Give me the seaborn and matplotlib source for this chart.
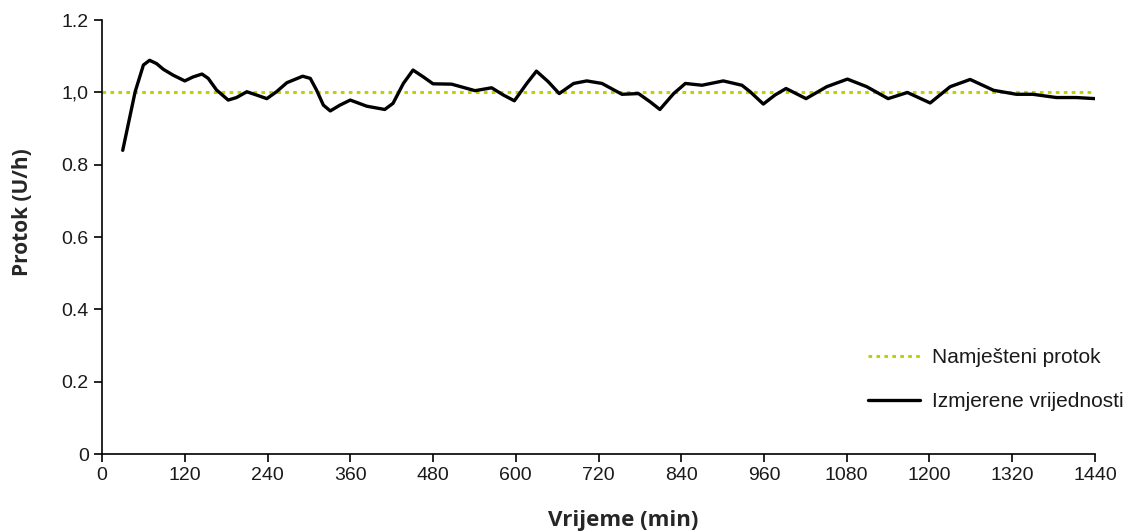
import matplotlib
matplotlib.use("Agg")
import matplotlib.pyplot as plt
import seaborn as sns
import pandas as pd

# values (min, U/h)
vrijeme = [30, 48, 60, 69, 79, 89, 103, 120, 132, 145, 154, 166, 183, 195, 210,
           224, 239, 253, 268, 291, 302, 311, 321, 331, 345, 360, 384, 410, 422,
           437, 451, 466, 480, 507, 524, 541, 565, 582, 598, 616, 630, 647, 663,
           684, 703, 725, 754, 778, 795, 809, 829, 846, 870, 901, 928, 940, 959,
           976, 992, 1021, 1051, 1081, 1109, 1140, 1168, 1201, 1230, 1259, 1293,
           1326, 1350, 1384, 1413, 1440]
izmjereno = [0.840, 1.002, 1.076, 1.089, 1.080, 1.064, 1.048, 1.032, 1.043, 1.051,
             1.039, 1.007, 0.979, 0.986, 1.002, 0.993, 0.983, 1.002, 1.027, 1.045,
             1.039, 1.007, 0.965, 0.949, 0.965, 0.979, 0.962, 0.953, 0.970, 1.025,
             1.062, 1.043, 1.024, 1.023, 1.014, 1.005, 1.013, 0.993, 0.977, 1.025,
             1.059, 1.030, 0.997, 1.025, 1.032, 1.025, 0.995, 0.997, 0.974, 0.953,
             0.997, 1.025, 1.020, 1.032, 1.020, 1.002, 0.968, 0.993, 1.011, 0.983,
             1.016, 1.037, 1.016, 0.983, 1.000, 0.971, 1.016, 1.036, 1.006, 0.995,
             0.995, 0.986, 0.986, 0.983]
namjesteni_x = [0, 1440]
namjesteni_y = [1.0, 1.0]

x_ticks = list(range(0, 1441, 120))
y_ticks = [0, 0.2, 0.4, 0.6, 0.8, 1.0, 1.2]
y_labels = ["0", "0.2", "0.4", "0.6", "0.8", "1,0", "1.2"]

sns.set_style("ticks")
plt.rcParams['font.family'] = ['Liberation Sans', 'DejaVu Sans']

df = pd.DataFrame({"Vrijeme": vrijeme, "Protok": izmjereno})
ref = pd.DataFrame({"Vrijeme": namjesteni_x, "Protok": namjesteni_y})

fig = plt.figure(figsize=(11.3, 5.31), dpi=100)
ax = fig.add_axes([0.0903, 0.145, 0.8787, 0.817])

sns.lineplot(data=ref, x="Vrijeme", y="Protok", ax=ax, color="#bfd200",
             linewidth=2.2, linestyle=(0, (1.2, 1.4)), label="Namješteni protok")
sns.lineplot(data=df, x="Vrijeme", y="Protok", ax=ax, color="black",
             linewidth=2.4, label="Izmjerene vrijednosti", solid_joinstyle="round")

ax.set_xlim(0, 1440)
ax.set_ylim(0, 1.2)
ax.set_xticks(x_ticks)
ax.set_yticks(y_ticks)
ax.set_yticklabels(y_labels)
ax.tick_params(labelsize=14, length=6, width=1.2, color="black", labelcolor="#1a1a1a")
for s in ["top", "right"]:
    ax.spines[s].set_visible(False)
for s in ["left", "bottom"]:
    ax.spines[s].set_linewidth(1.2)
    ax.spines[s].set_color("black")

label_font = dict(fontweight="bold", family=["Open Sans", "DejaVu Sans"])
ax.set_xlabel("Vrijeme (min)", fontsize=16, **label_font)
ax.set_ylabel("Protok (U/h)", fontsize=15, **label_font)
ax.xaxis.set_label_coords(0.5247, -0.128)
ax.yaxis.set_label_coords(-0.0695, 0.558)

leg = ax.legend(loc="center left", bbox_to_anchor=(0.761, 0.171), frameon=False,
                fontsize=15, handlelength=2.5, handletextpad=0.55,
                labelspacing=1.2, borderpad=0)
for t in leg.get_texts():
    t.set_color("#1a1a1a")

fig.savefig("out.png", dpi=100)
